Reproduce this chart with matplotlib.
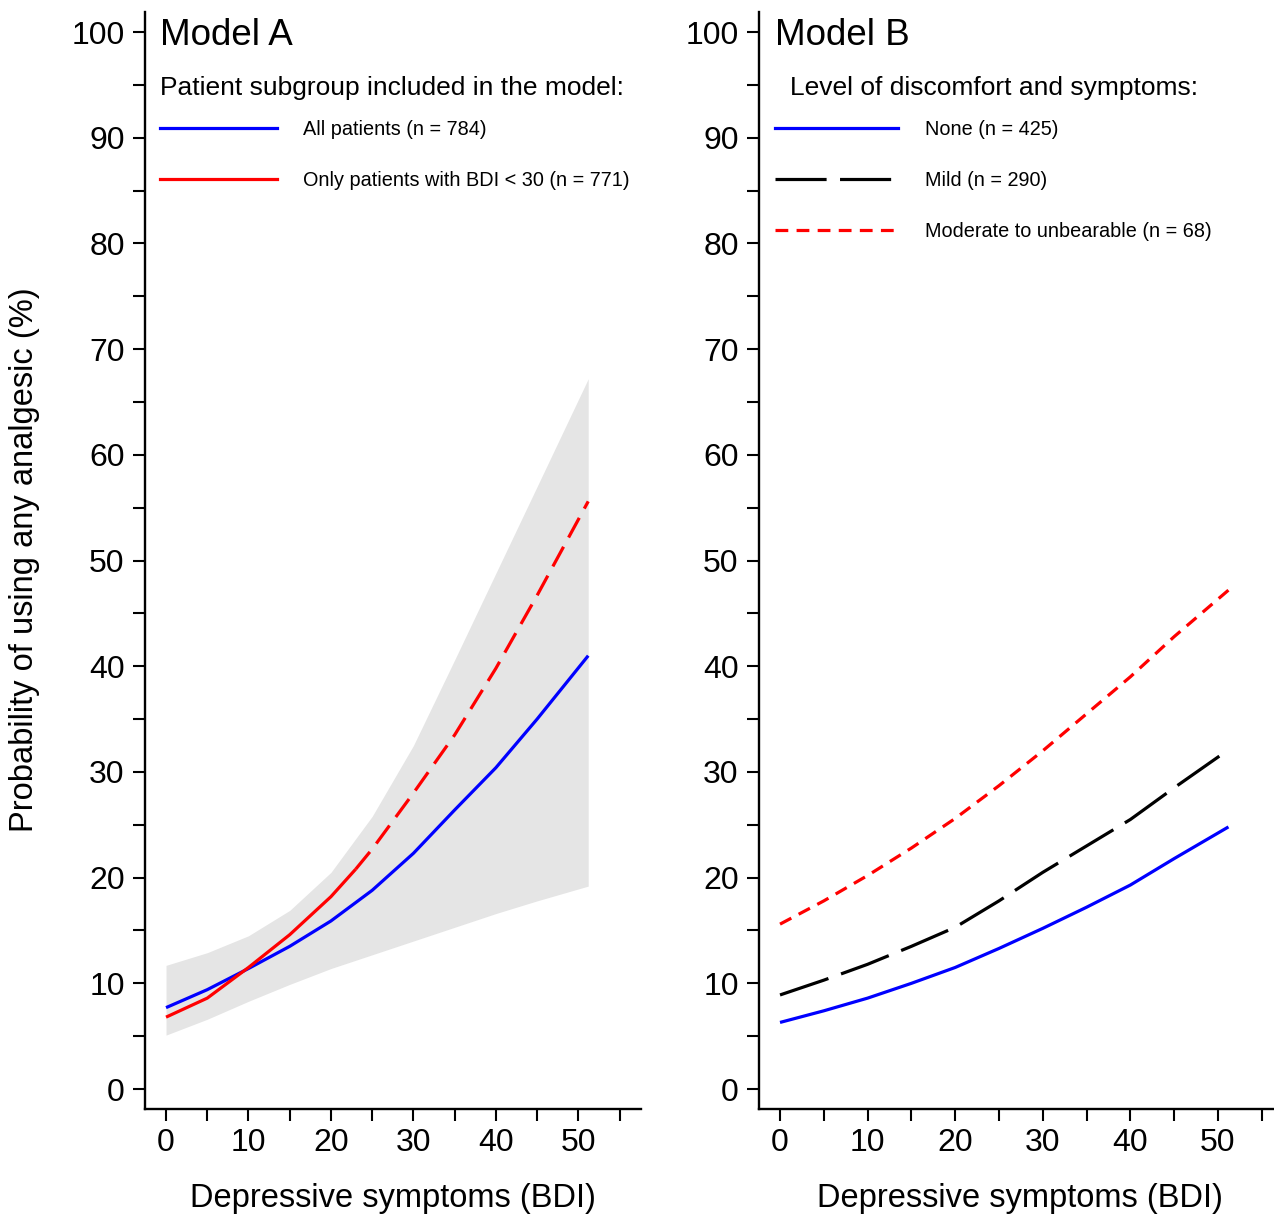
import matplotlib
matplotlib.use('Agg')
import matplotlib.pyplot as plt
from matplotlib.lines import Line2D

plt.rcParams['font.family'] = ['Liberation Sans', 'DejaVu Sans']

# ---------------- data ----------------
bdi = [0, 5, 10, 15, 20, 25, 30, 35, 40, 45, 51.2]

# Model A
a_all = [7.7, 9.4, 11.4, 13.5, 15.9, 18.8, 22.3, 26.4, 30.4, 35.0, 41.0]
a_ci_lo = [5.1, 6.6, 8.3, 9.9, 11.4, 12.7, 14.0, 15.3, 16.6, 17.8, 19.2]
a_ci_hi = [11.7, 12.9, 14.5, 16.9, 20.5, 25.8, 32.5, 40.6, 48.8, 57.0, 67.2]
a_red_x = [0, 5, 10, 15, 20, 23, 25, 30, 35, 40, 45, 51.2]
a_red = [6.8, 8.6, 11.5, 14.6, 18.2, 20.8, 22.7, 28.0, 33.5, 39.8, 46.7, 55.6]
red_solid_end = 23

# Model B
b_none = [6.3, 7.4, 8.6, 10.0, 11.5, 13.3, 15.2, 17.2, 19.3, 21.8, 24.8]
b_mild = [8.9, 10.3, 11.8, 13.5, 15.3, 17.8, 20.5, 23.0, 25.5, 28.5, 32.1]
b_mod = [15.6, 17.8, 20.2, 22.8, 25.6, 28.7, 32.0, 35.5, 39.0, 42.8, 47.2]

a_labels = ["All patients (n = 784)", "Only patients with BDI < 30 (n = 771)"]
b_labels = ["None (n = 425)", "Mild (n = 290)", "Moderate to unbearable (n = 68)"]

W, H = 1274, 1216
fig = plt.figure(figsize=(W / 100, H / 100), dpi=100)

def fx(px):
    return px / W

def fy(py):
    return 1 - py / H

bot, top = fy(1109), fy(12)
axA = fig.add_axes([fx(145), bot, fx(641) - fx(145), top - bot])
axB = fig.add_axes([fx(759), bot, fx(1274) - fx(759), top - bot])

LW = 2.3
dash_red = (0, (7, 3.3))
dash_long = (0, (16, 4.2))
dash_short = (0, (4.0, 2.6))

# Model A
axA.fill_between(bdi, a_ci_lo, a_ci_hi, color='#e5e5e5', lw=0, zorder=1)
axA.plot(bdi, a_all, color='#0000ff', lw=LW, zorder=3, solid_capstyle='butt')
rs_x = [x for x in a_red_x if x <= red_solid_end]
rs_y = [y for x, y in zip(a_red_x, a_red) if x <= red_solid_end]
rd_x = [x for x in a_red_x if x >= red_solid_end]
rd_y = [y for x, y in zip(a_red_x, a_red) if x >= red_solid_end]
axA.plot(rs_x, rs_y, color='#ff0000', lw=LW, zorder=4, solid_capstyle='butt')
axA.plot(rd_x, rd_y, color='#ff0000', lw=LW, zorder=4, linestyle=dash_red,
         dash_capstyle='butt')

# Model B
axB.plot(bdi, b_none, color='#0000ff', lw=LW, solid_capstyle='butt')
axB.plot(bdi, b_mild, color='black', lw=LW, linestyle=dash_long, dash_capstyle='butt')
axB.plot(bdi, b_mod, color='#ff0000', lw=LW, linestyle=dash_short, dash_capstyle='butt')

for ax, xl in ((axA, (-2.55, 57.6)), (axB, (-2.4, 56.4))):
    ax.set_xlim(*xl)
    ax.set_ylim(-1.89, 101.9)
    for s in ('top', 'right'):
        ax.spines[s].set_visible(False)
    for s in ('left', 'bottom'):
        ax.spines[s].set_linewidth(1.7)
    ax.tick_params(which='both', direction='out', length=8.6, width=1.5)
    ax.tick_params(axis='x', which='major', labelsize=23, pad=5)
    ax.tick_params(axis='y', which='major', labelsize=23, pad=6)
    ax.set_xticks(range(0, 51, 10))
    ax.set_xticks(range(5, 56, 10), minor=True)
    ax.set_yticks(range(0, 101, 10))
    ax.set_yticks(range(5, 96, 10), minor=True)

# titles
fig.text(fx(160), fy(45), "Model A", fontsize=26.5, ha='left', va='baseline')
fig.text(fx(775), fy(45), "Model B", fontsize=26.5, ha='left', va='baseline')
fig.text(fx(160), fy(95), "Patient subgroup included in the model:", fontsize=19,
         ha='left', va='baseline')
fig.text(fx(790), fy(95), "Level of discomfort and symptoms:", fontsize=19,
         ha='left', va='baseline')

# legends
hA = [Line2D([], [], color='#0000ff', lw=LW),
      Line2D([], [], color='#ff0000', lw=LW)]
hB = [Line2D([], [], color='#0000ff', lw=LW),
      Line2D([], [], color='black', lw=LW, linestyle=dash_long, dash_capstyle='butt'),
      Line2D([], [], color='#ff0000', lw=LW, linestyle=dash_short, dash_capstyle='butt')]
common = dict(loc='upper left', frameon=False, fontsize=14.3,
              labelspacing=1.6, borderpad=0, borderaxespad=0)
fig.legend(hA, a_labels, bbox_to_anchor=(fx(160), fy(120)),
           handlelength=5.9, handletextpad=1.3, **common)
fig.legend(hB, b_labels, bbox_to_anchor=(fx(775), fy(120)),
           handlelength=6.2, handletextpad=1.36, **common)

# axis labels
fig.text(fx(25), fy(560), "Probability of using any analgesic (%)", fontsize=23.5,
         rotation=90, ha='center', va='center')
fig.text(fx(393), fy(1199), "Depressive symptoms (BDI)", fontsize=23.5,
         ha='center', va='center')
fig.text(fx(1020), fy(1199), "Depressive symptoms (BDI)", fontsize=23.5,
         ha='center', va='center')

fig.savefig('out.png', dpi=100)
